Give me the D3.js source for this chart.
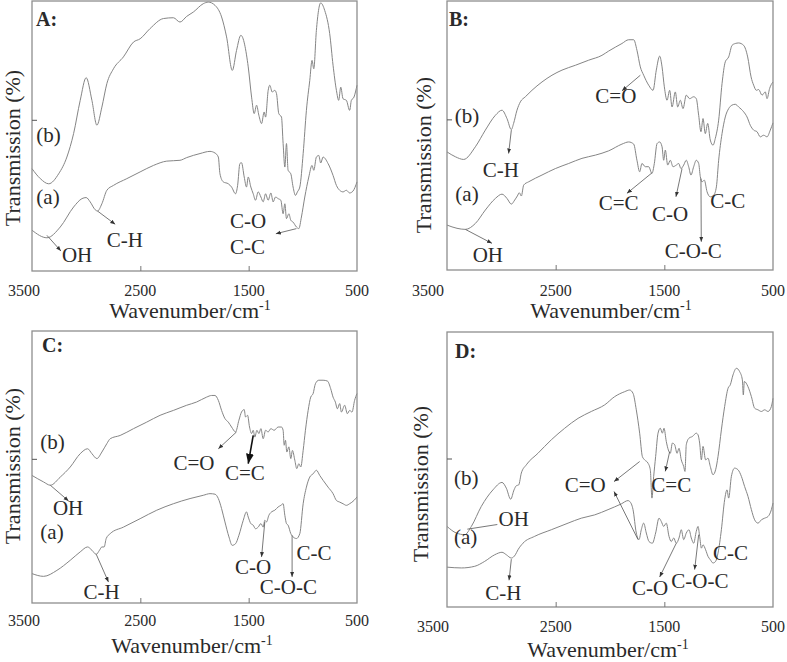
<!DOCTYPE html>
<html>
<head>
<meta charset="utf-8">
<script src="https://cdn.jsdelivr.net/npm/d3@7"></script>
<style>
  body { margin: 0; background: #fff; }
  svg { display: block; }
</style>
</head>
<body>
<svg id="chart" width="787" height="662"></svg>
<script>
// ---- data: wavenumber (cm-1), transmission (arbitrary, 0..100 of panel height)
var wnTicks = [3500, 2500, 1500, 500];
var tickLabels = ["3500", "2500", "1500", "500"];
var innerTicks = [2500, 1500];
var panelNames = ["A:", "B:", "C:", "D:"];
var yTickValues = [56, 56, 53, 54];

var specA_b = [[3500,37.9],[3423,34.2],[3346,32.3],[3254,36],[3178,42.2],[3116,50.9],[3055,63.2],[3000,71.6],[2947,63.2],[2901,54],[2855,60.7],[2809,69.4],[2748,74.9],[2656,79.3],[2563,84.8],[2502,86],[2410,89.8],[2287,93.5],[2195,93.8],[2134,92.2],[2072,94.3],[2011,95.9],[1919,99],[1873,99.6],[1811,98.4],[1750,94.1],[1704,86.7],[1651,74.3],[1612,81.7],[1572,87.3],[1504,75.6],[1473,64.4],[1449,58.3],[1427,61.4],[1406,57.7],[1381,54.6],[1357,58.9],[1344,57],[1320,66.9],[1305,68.8],[1283,66.3],[1259,66.9],[1243,65.7],[1222,58.3],[1197,57],[1182,47.2],[1166,38.5],[1151,47.2],[1136,37.3],[1111,36],[1090,31.1],[1068,28],[1050,29.3],[1028,31.1],[997,43.5],[967,59.5],[936,70.6],[915,78],[899,74.9],[875,89.1],[835,99.3],[798,96.5],[752,87.9],[721,76.2],[690,66.9],[669,63.2],[650,68.1],[629,63.8],[598,63.2],[568,59.5],[552,63.2],[528,64.4],[500,68.8]];
var specA_a = [[3500,15.1],[3362,12.3],[3239,16.3],[3116,23.7],[3039,26.8],[3000,27.2],[2963,25.6],[2917,22.7],[2895,22.2],[2855,24.9],[2809,29.9],[2748,31.7],[2625,34.2],[2502,36.7],[2379,39.1],[2256,40.7],[2134,41],[2072,42],[1949,43.5],[1857,44.3],[1811,43.7],[1780,42.2],[1765,36],[1734,33],[1688,32.3],[1658,31.1],[1621,28.6],[1602,31.7],[1581,39.8],[1566,40.1],[1541,34.8],[1520,31.1],[1504,34.8],[1480,31.1],[1458,28.6],[1437,26.2],[1412,29.3],[1387,27.4],[1366,25.6],[1344,28.6],[1320,26.2],[1295,28.9],[1274,25.6],[1252,27.4],[1228,26.8],[1203,26.2],[1182,21.2],[1166,24.9],[1151,19.4],[1129,21.2],[1111,18.8],[1090,18.1],[1059,16.3],[1037,15.7],[1013,20],[982,27.4],[945,34.8],[915,39.1],[899,37.3],[875,42.2],[853,42.8],[835,40],[813,42.2],[767,39.8],[721,35.4],[690,31.7],[660,29.9],[629,29.3],[598,29.9],[568,28.9],[537,29.6],[500,33]];

var specB_b = [[3500,43.9],[3423,42.1],[3347,41.1],[3239,45.8],[3147,52],[3055,57.5],[2994,59.4],[2948,56.3],[2908,52.2],[2887,54.5],[2856,59.4],[2825,62.5],[2779,64.4],[2718,66.8],[2626,69.9],[2534,72.4],[2442,74.3],[2319,76.1],[2196,78],[2074,79.8],[2012,81.4],[1890,84.2],[1828,85.6],[1782,85.6],[1752,81.7],[1721,75.5],[1690,72.4],[1644,68.7],[1604,66.8],[1574,74.3],[1543,79.5],[1521,75.5],[1500,68.1],[1475,63.1],[1451,66.8],[1429,60.6],[1399,66.2],[1377,60.6],[1353,63.1],[1328,60],[1298,65],[1267,63.7],[1230,64.4],[1206,63.7],[1184,57.5],[1163,51.4],[1144,56.3],[1123,50.7],[1101,54.5],[1077,48.3],[1052,46.4],[1031,48.9],[1000,55.7],[969,69.3],[939,77.4],[908,79.2],[877,83.5],[847,84.2],[816,84.4],[770,83.5],[733,79.2],[702,71.8],[678,68.7],[653,66.8],[632,67.1],[601,65],[571,66.2],[555,63.7],[531,67.5],[500,69.9]];
var specB_a = [[3500,16.7],[3408,15.5],[3331,15.1],[3239,17.3],[3147,22.3],[3055,26.6],[2994,28.2],[2948,26.6],[2908,24.5],[2877,26],[2853,27.5],[2834,28.7],[2816,27.5],[2794,31.6],[2748,32.8],[2626,35.3],[2503,37.7],[2380,39.6],[2258,41.5],[2135,42.7],[2012,44.3],[1890,46.8],[1828,47.6],[1782,46.8],[1752,40.8],[1727,36.5],[1706,39.6],[1675,38.4],[1644,38.4],[1614,35.9],[1592,39.6],[1567,47],[1543,47.6],[1521,45.8],[1506,40.8],[1491,44.6],[1469,39],[1445,40.8],[1420,38.4],[1390,39],[1368,39.6],[1347,37.7],[1322,39],[1298,40.8],[1276,38.4],[1255,35.3],[1230,38.4],[1206,40.8],[1184,39.6],[1169,34.7],[1153,32.8],[1132,33.4],[1107,29.1],[1077,27.2],[1046,27.8],[1021,30.9],[1000,40.8],[969,50.7],[939,56.9],[908,60],[877,61.3],[847,61.6],[816,60.6],[770,58.8],[739,56.9],[709,53.8],[678,52],[647,51.4],[617,49.5],[586,50.1],[555,49.5],[525,52],[500,54.7]];

var specC_b = [[3500,46.9],[3393,44.5],[3331,43.3],[3239,46.3],[3147,50],[3055,54.9],[2987,56.7],[2947,54.9],[2901,53.1],[2855,55.5],[2809,58.6],[2778,60.4],[2686,61.6],[2563,64.1],[2441,66.5],[2318,69],[2195,70.8],[2072,72.7],[1980,73.9],[1888,75.7],[1842,76.3],[1811,76.3],[1780,74.5],[1750,70.8],[1719,67.8],[1688,66.5],[1658,64.7],[1621,62.9],[1590,67.2],[1566,70.2],[1541,71.1],[1529,68.4],[1510,69],[1492,64.7],[1473,62.3],[1458,63.5],[1443,61],[1424,63.5],[1406,62.3],[1387,64.1],[1366,60.4],[1344,63.5],[1320,62.9],[1295,64.1],[1265,63.5],[1228,64.7],[1197,64.7],[1182,63.5],[1172,58],[1160,59.8],[1148,55.5],[1129,57.4],[1111,53.1],[1096,56.1],[1074,52.5],[1056,49.4],[1037,51.2],[1019,50],[997,56.1],[976,63.5],[951,70.8],[927,75.7],[905,77],[884,80.6],[853,81.9],[813,81.9],[773,81.6],[743,78.8],[721,75.7],[700,73.9],[681,71.4],[660,73.3],[644,70.2],[614,72.7],[589,69.6],[568,70.8],[546,70.2],[522,74.5],[500,77]];
var specC_a = [[3500,10.8],[3393,9.8],[3270,12],[3147,15.7],[3055,18.8],[2987,20.6],[2947,19.4],[2907,17.9],[2877,19.4],[2855,20.6],[2834,20.6],[2815,23.7],[2778,25.5],[2656,27.9],[2502,31],[2349,34.1],[2195,36.5],[2041,38.4],[1919,39.6],[1857,40.2],[1811,40],[1780,38.4],[1750,34.7],[1719,29.8],[1682,24.3],[1652,21.2],[1621,21.8],[1590,24.9],[1550,30.4],[1520,33.5],[1504,31.6],[1480,29.2],[1458,28.6],[1437,27.3],[1412,27.9],[1387,29.2],[1366,27.9],[1351,30.4],[1335,29.8],[1314,32.2],[1289,33.5],[1259,34.1],[1228,35.3],[1203,35.9],[1182,36.5],[1166,32.2],[1151,29.2],[1136,28.6],[1111,25.5],[1090,24.3],[1059,23.7],[1028,25.5],[997,36.5],[967,42.6],[936,46.3],[905,47.5],[875,48.8],[844,46.9],[813,45.1],[767,42.6],[721,40.2],[690,37.7],[660,37.1],[629,36.5],[598,35.9],[568,36.5],[528,37.7],[500,39]];

var specD_b = [[3500,29.3],[3414,26.9],[3337,26.3],[3276,29.3],[3184,36.6],[3077,42.6],[2994,45.3],[2954,43.2],[2914,39.2],[2883,42.6],[2862,44.1],[2840,44.4],[2816,48.7],[2770,51.7],[2663,55.9],[2540,60.8],[2417,65],[2294,68.6],[2172,71.1],[2049,73.5],[1957,76.5],[1865,78.3],[1819,78.9],[1788,77.7],[1758,71.7],[1727,63.2],[1702,54.7],[1681,53.5],[1650,52.3],[1629,49.9],[1614,39.6],[1598,47.5],[1580,54.7],[1558,63.2],[1537,65],[1518,63.2],[1503,65],[1482,60.2],[1463,57.1],[1445,55.9],[1426,59.6],[1405,59],[1383,55.9],[1365,57.7],[1344,53.5],[1322,51.1],[1310,49.3],[1298,59],[1273,61.4],[1242,62],[1206,63.2],[1190,62.6],[1175,59.6],[1159,53.5],[1144,58.4],[1120,53.5],[1098,54.1],[1077,51.1],[1052,48.1],[1028,49.9],[1006,54.7],[975,64.4],[945,72.9],[914,79.5],[893,80.8],[868,84.4],[837,86.8],[807,85.6],[782,82.6],[773,77.1],[764,82],[730,80.1],[699,76.5],[669,72.3],[638,71.7],[607,71.1],[577,71.7],[546,71.1],[515,72.9],[500,75.9]];
var specD_a = [[3500,14.5],[3368,14.2],[3245,14.8],[3153,16.6],[3061,19],[2994,19.9],[2954,19],[2908,17.8],[2871,19],[2847,20.8],[2801,23.2],[2693,25.7],[2540,28.1],[2386,30.5],[2264,32.3],[2141,33.5],[2018,35.4],[1896,37.5],[1834,38.7],[1819,38.4],[1788,35.4],[1758,26.9],[1733,24.5],[1712,28.1],[1690,30.5],[1666,26.9],[1641,23.8],[1610,23.2],[1580,26.9],[1549,32.3],[1528,31.1],[1506,29.3],[1482,30.5],[1457,25.7],[1436,23.8],[1414,25.1],[1390,23.2],[1365,25.1],[1344,28.1],[1322,24.5],[1298,26.9],[1273,28.1],[1252,25.1],[1230,23.2],[1206,27.5],[1190,29.3],[1175,25.7],[1159,21.4],[1144,22.6],[1120,20.8],[1098,18.4],[1077,17.2],[1052,16],[1028,16.6],[1006,19.6],[975,28.1],[945,39],[923,42.6],[908,39.6],[883,47.5],[853,50.5],[822,49.9],[791,47.5],[761,43.8],[730,40.2],[699,35.4],[669,31.7],[638,30.5],[607,31.7],[577,32.3],[546,32.9],[515,35.4],[500,37.8]];

// peak labels (wavenumber, transmission at text baseline)
var labelsA = [{t:"(b)",x:3460,y:47.8},{t:"(a)",x:3460,y:24.7},{t:"OH",x:3224,y:3.3},{t:"C-H",x:2809,y:8.9},{t:"C-O",x:1673,y:15.9},{t:"C-C",x:1673,y:6.2}];
var labelsB = [{t:"(b)",x:3429,y:54.5},{t:"(a)",x:3423,y:25.7},{t:"C=O",x:2135,y:61.9},{t:"C-H",x:3172,y:34.7},{t:"C=C",x:2104,y:22.3},{t:"C-O",x:1614,y:18.3},{t:"C-O-C",x:1497,y:4.3},{t:"C-C",x:1077,y:22.9},{t:"OH",x:3264,y:3.1}];
var labelsC = [{t:"(b)",x:3423,y:56.7},{t:"(a)",x:3423,y:23.7},{t:"OH",x:3307,y:32.2},{t:"C-H",x:3024,y:1.6},{t:"C=O",x:2195,y:48.8},{t:"C=C",x:1719,y:45.1},{t:"C-O",x:1627,y:10.8},{t:"C-O-C",x:1397,y:3.4},{t:"C-C",x:1059,y:15.7}];
var labelsD = [{t:"(b)",x:3436,y:44.4},{t:"(a)",x:3436,y:23},{t:"OH",x:3025,y:29.3},{t:"C-H",x:3147,y:2.7},{t:"C=O",x:2417,y:42},{t:"C=C",x:1620,y:42},{t:"C-O",x:1798,y:4.5},{t:"C-O-C",x:1436,y:6.9},{t:"C-C",x:1052,y:17.2}];

// pointer lines: from the band on the curve to the label
var arrowsA = [{a:[3362,13.2],b:[3233,7.4]},{a:[2895,22.2],b:[2732,17.3]},{a:[1059,15.7],b:[1249,13.8]}];
var arrowsB = [{a:[1721,72.4],b:[1890,66.6]},{a:[2908,52],b:[2933,43.3]},{a:[1614,36.1],b:[1844,28.5]},{a:[1337,37.7],b:[1393,27.2]},{a:[1163,34],b:[1160,10.5]},{a:[3331,15.1],b:[3086,9.9]}];
var arrowsC = [{a:[3331,43.3],b:[3162,37.5]},{a:[2907,17.9],b:[2794,7.7]},{a:[1612,62.9],b:[1780,56.7]},{a:[1458,61.6],b:[1504,51.2],big:true},{a:[1351,29.8],b:[1381,16.9]},{a:[1099,24.9],b:[1099,9.6]}];
var arrowsD = [{a:[3313,28.3],b:[3037,30],plain:true},{a:[2908,17.4],b:[2929,9.7]},{a:[1727,52.9],b:[1963,45.6]},{a:[1742,24.5],b:[1963,42]},{a:[1451,56.5],b:[1491,49.3]},{a:[1390,23.2],b:[1543,10.9]},{a:[1184,26.3],b:[1221,13.6]}];

// ---- layout of the four panels (pixels)
var panels = [
  {left:32,  right:357, top:1,   bottom:271, tickY:296, firstDx:-8,  xtX:190, xtY:318, ytX:20,  ytY:148, tagX:36,  tagY:26},
  {left:447, right:773, top:1,   bottom:270, tickY:296, firstDx:-19, xtX:611, xtY:318, ytX:431, ytY:155, tagX:449, tagY:26},
  {left:32,  right:357, top:331, bottom:603, tickY:626, firstDx:-8,  xtX:192, xtY:653, ytX:20,  ytY:466, tagX:42,  tagY:352},
  {left:447, right:773, top:332, bottom:607, tickY:632, firstDx:-14, xtX:608, xtY:657, ytX:428, ytY:484, tagX:455, tagY:358}
];
var curvesByPanel = [[specA_b, specA_a], [specB_b, specB_a], [specC_b, specC_a], [specD_b, specD_a]];
var labelsByPanel = [labelsA, labelsB, labelsC, labelsD];
var arrowsByPanel = [arrowsA, arrowsB, arrowsC, arrowsD];

var FONT = "Liberation Serif";

var svg = d3.select("#chart");
var defs = svg.append("defs");

function addMarker(id, size, color) {
  defs.append("marker")
    .attr("id", id)
    .attr("viewBox", "0 0 10 10")
    .attr("refX", 10).attr("refY", 5)
    .attr("markerUnits", "userSpaceOnUse")
    .attr("markerWidth", size).attr("markerHeight", size)
    .attr("orient", "auto")
    .append("path").attr("d", "M0,1L10,5L0,9Z").attr("fill", color);
}
addMarker("arr", 5, "#333");
addMarker("arrBig", 10, "#111");

function addText(g, size) {
  return g.append("text")
    .attr("font-family", FONT)
    .attr("font-size", size)
    .attr("fill", "#2a2a2a");
}

function drawPanel(p, i) {
  var x = d3.scaleLinear().domain([3500, 500]).range([p.left, p.right]);
  var y = d3.scaleLinear().domain([0, 100]).range([p.bottom, p.top]);
  var g = svg.append("g");

  var line = d3.line()
    .x(function(d) { return x(d[0]); })
    .y(function(d) { return y(d[1]); })
    .curve(d3.curveMonotoneX);

  curvesByPanel[i].forEach(function(c) {
    g.append("path").datum(c)
      .attr("d", line)
      .attr("fill", "none")
      .attr("stroke", "#858585")
      .attr("stroke-width", 1);
  });

  // frame
  g.append("rect")
    .attr("x", p.left).attr("y", p.top)
    .attr("width", p.right - p.left).attr("height", p.bottom - p.top)
    .attr("fill", "none").attr("stroke", "#8e8e8e").attr("stroke-width", 1.3);

  // inner ticks
  var xa = g.append("g").attr("transform", "translate(0," + p.bottom + ")")
    .call(d3.axisBottom(x).tickValues(innerTicks).tickSize(-5).tickFormat(""));
  xa.select(".domain").remove();
  xa.selectAll("line").attr("stroke", "#777");

  var ya = g.append("g").attr("transform", "translate(" + p.left + ",0)")
    .call(d3.axisLeft(y).tickValues([yTickValues[i]]).tickSize(-5).tickFormat(""));
  ya.select(".domain").remove();
  ya.selectAll("line").attr("stroke", "#555");

  // tick labels
  wnTicks.forEach(function(d, k) {
    addText(g, 16)
      .attr("x", x(d) + (k === 0 ? p.firstDx : 0))
      .attr("y", p.tickY)
      .attr("text-anchor", "middle")
      .text(tickLabels[k]);
  });

  // axis titles
  var xt = addText(g, 22)
    .attr("x", p.xtX).attr("y", p.xtY)
    .attr("text-anchor", "middle")
    .text("Wavenumber/cm");
  xt.append("tspan").attr("dy", -8).attr("font-size", 14).text("-1");

  addText(g, 22)
    .attr("transform", "translate(" + p.ytX + "," + p.ytY + ") rotate(-90)")
    .attr("text-anchor", "middle")
    .text("Transmission (%)");

  addText(g, 20)
    .attr("x", p.tagX).attr("y", p.tagY)
    .attr("font-weight", "bold")
    .text(panelNames[i]);

  // pointers
  arrowsByPanel[i].forEach(function(d) {
    var l = g.append("line")
      .attr("x1", x(d.a[0])).attr("y1", y(d.a[1]))
      .attr("x2", x(d.b[0])).attr("y2", y(d.b[1]))
      .attr("stroke", d.big ? "#111" : "#555")
      .attr("stroke-width", d.big ? 1.6 : 0.8);
    if (!d.plain) l.attr("marker-end", d.big ? "url(#arrBig)" : "url(#arr)");
  });

  // band labels
  labelsByPanel[i].forEach(function(d) {
    addText(g, 21)
      .attr("x", x(d.x))
      .attr("y", y(d.y))
      .text(d.t);
  });
}

panels.forEach(drawPanel);
</script>
</body>
</html>
